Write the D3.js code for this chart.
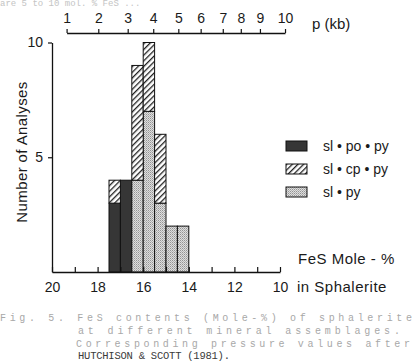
<!DOCTYPE html>
<html>
<head>
<meta charset="utf-8">
<script src="https://cdn.jsdelivr.net/npm/d3@7"></script>
<style>
    body { margin: 0; background: #fff; }
    svg { display: block; }
    text { font-family: "Liberation Sans", Arial, sans-serif; fill: #1a1a1a; }
    .caption { font-family: "Liberation Mono", "DejaVu Sans Mono", monospace; }
</style>
</head>
<body>
<svg id="chart" width="412" height="362"></svg>
<script>
// bins of FeS mole-% (left edge, high side), 0.5 wide
var binStart = [17.5, 17.0, 16.5, 16.0, 15.5, 15.0, 14.5];
var binWidth = 0.5;
var slPoPy = [3, 4, 0, 0, 0, 0, 0];
var slPy   = [0, 0, 4, 7, 3, 2, 2];
var slCpPy = [1, 0, 5, 3, 3, 0, 0];

var fesTicks = [20, 19, 18, 17, 16, 15, 14, 13, 12, 11, 10];
var fesLabels = [20, 18, 16, 14, 12, 10];
var countTicks = [5, 10];

// pressure scale (kb) and the FeS mole-% each value sits at
var pressure = [1, 2, 3, 4, 5, 6, 7, 8, 9, 10];
var pressureFeS = [19.36, 17.97, 16.68, 15.56, 14.46, 13.48, 12.51, 11.72, 10.88, 9.78];

var seriesNames = ["sl \u2022 po \u2022 py", "sl \u2022 cp \u2022 py", "sl \u2022 py"];

var captionLines = [
    "Fig. 5. FeS contents (Mole-%) of sphalerite",
    "at different mineral assemblages.",
    "Corresponding pressure values after",
    "HUTCHISON & SCOTT (1981)."
];

var svg = d3.select("#chart");
var margin = { top: 42.5, left: 52, bottom: 272 };

var xScale = d3.scaleLinear().domain([20, 10]).range([52, 280]);
var yScale = d3.scaleLinear().domain([0, 10]).range([272, 42.5]);

// patterns
var defs = svg.append("defs");
var hatch = defs.append("pattern")
    .attr("id", "hatch")
    .attr("patternUnits", "userSpaceOnUse")
    .attr("width", 4).attr("height", 4)
    .attr("patternTransform", "rotate(45)");
hatch.append("rect").attr("width", 4).attr("height", 4).attr("fill", "#fff");
hatch.append("rect").attr("width", 1.3).attr("height", 4).attr("fill", "#222");

var stipple = defs.append("pattern")
    .attr("id", "stipple")
    .attr("patternUnits", "userSpaceOnUse")
    .attr("width", 2).attr("height", 2);
stipple.append("rect").attr("width", 2).attr("height", 2).attr("fill", "#dedede");
stipple.append("rect").attr("width", 1).attr("height", 1).attr("fill", "#949494");
stipple.append("rect").attr("x", 1).attr("y", 1).attr("width", 1).attr("height", 1).attr("fill", "#b4b4b4");

var fills = { po: "#363636", cp: "url(#hatch)", py: "url(#stipple)" };

var table = binStart.map(function (d, i)
{
    return { start: d, po: slPoPy[i], py: slPy[i], cp: slCpPy[i] };
});

var stack = d3.stack().keys(["po", "py", "cp"]);
var layers = stack(table);

svg.selectAll("g.layer").data(layers).enter().append("g")
    .attr("class", "layer")
    .attr("fill", function (d) { return fills[d.key]; })
    .selectAll("rect")
    .data(function (d) { return d.filter(function (s) { return s[1] > s[0]; }); })
    .enter().append("rect")
    .attr("x", function (d) { return xScale(d.data.start); })
    .attr("width", function (d) { return xScale(d.data.start - binWidth) - xScale(d.data.start); })
    .attr("y", function (d) { return yScale(d[1]); })
    .attr("height", function (d) { return yScale(d[0]) - yScale(d[1]); })
    .attr("stroke", "#111")
    .attr("stroke-width", 1);

// bottom axis (FeS)
var xAxis = d3.axisBottom(xScale)
    .tickValues(fesTicks)
    .tickSizeInner(-5)
    .tickSizeOuter(0)
    .tickFormat(function (d) { return fesLabels.indexOf(d) >= 0 ? d : ""; });

var gx = svg.append("g").attr("transform", "translate(0," + margin.bottom + ")").call(xAxis);
gx.select(".domain").attr("stroke", "#111").attr("stroke-width", 1.3);
gx.selectAll(".tick line").attr("stroke", "#111").attr("stroke-width", 1.2);
gx.selectAll(".tick text").attr("y", 20).attr("dy", 0)
    .style("font-size", "14px").style("font-family", "Liberation Sans, Arial, sans-serif").attr("fill", "#1a1a1a");

// left axis
var yAxis = d3.axisLeft(yScale)
    .tickValues(countTicks)
    .tickSizeInner(4)
    .tickSizeOuter(0)
    .tickPadding(5);

var gy = svg.append("g").attr("transform", "translate(" + margin.left + ",0)").call(yAxis);
gy.select(".domain").attr("stroke", "#111").attr("stroke-width", 1.3);
gy.selectAll(".tick line").attr("stroke", "#111").attr("stroke-width", 1.2);
gy.selectAll(".tick text")
    .style("font-size", "14px").style("font-family", "Liberation Sans, Arial, sans-serif").attr("fill", "#1a1a1a");

// top axis (pressure, kb)
var pScale = d3.scaleLinear().domain(pressure).range(pressureFeS.map(function (d) { return xScale(d); }));
var pAxis = d3.axisTop(pScale)
    .tickValues(pressure)
    .tickSizeInner(4)
    .tickSizeOuter(0)
    .tickPadding(6);

var gp = svg.append("g").attr("transform", "translate(0,33)").call(pAxis);
gp.select(".domain").attr("stroke", "#111").attr("stroke-width", 1.3);
gp.selectAll(".tick line").attr("stroke", "#111").attr("stroke-width", 1.2);
gp.selectAll(".tick text")
    .style("font-size", "14px").style("font-family", "Liberation Sans, Arial, sans-serif").attr("fill", "#1a1a1a");

svg.append("text")
    .attr("x", 312).attr("y", 29)
    .style("font-size", "15px")
    .text("p (kb)");

// axis titles
svg.append("text")
    .attr("transform", "translate(27,152) rotate(-90)")
    .attr("text-anchor", "middle")
    .style("font-size", "15px")
    .style("letter-spacing", "0.4px")
    .text("Number of Analyses");

svg.append("text")
    .attr("x", 298).attr("y", 264)
    .style("font-size", "15px")
    .style("letter-spacing", "0.5px")
    .text("FeS Mole - %");

svg.append("text")
    .attr("x", 297).attr("y", 292)
    .style("font-size", "15px")
    .style("letter-spacing", "0.5px")
    .text("in  Sphalerite");

// legend
var legend = svg.selectAll("g.legend").data(["po", "cp", "py"]).enter().append("g")
    .attr("class", "legend")
    .attr("transform", function (d, i) { return "translate(286," + (141 + i * 23) + ")"; });

legend.append("rect")
    .attr("width", 21).attr("height", 10)
    .attr("fill", function (d) { return fills[d]; })
    .attr("stroke", "#111").attr("stroke-width", 1);

legend.append("text")
    .attr("x", 37).attr("y", 10)
    .style("font-size", "14px")
    .text(function (d, i) { return seriesNames[i]; });

// caption
svg.append("text")
    .attr("class", "caption")
    .attr("x", 0).attr("y", 6)
    .style("font-size", "9px").style("fill", "#c4c4c4")
    .text("are 5 to 10 mol. % FeS ...");

var capY = [321, 334, 347, 359];
var capX = [0, 78, 76, 78];
var capLen = [412, 322, 334, 152];
svg.selectAll("text.cap").data(captionLines).enter().append("text")
    .attr("class", "caption cap")
    .attr("x", function (d, i) { return capX[i]; })
    .attr("y", function (d, i) { return capY[i]; })
    .attr("textLength", function (d, i) { return capLen[i]; })
    .attr("lengthAdjust", "spacing")
    .style("font-size", function (d, i) { return i < 3 ? "10px" : "10.5px"; })
    .style("fill", function (d, i) { return i < 3 ? "#a8a8a8" : "#3a3a3a"; })
    .text(function (d) { return d; });
</script>
</body>
</html>
